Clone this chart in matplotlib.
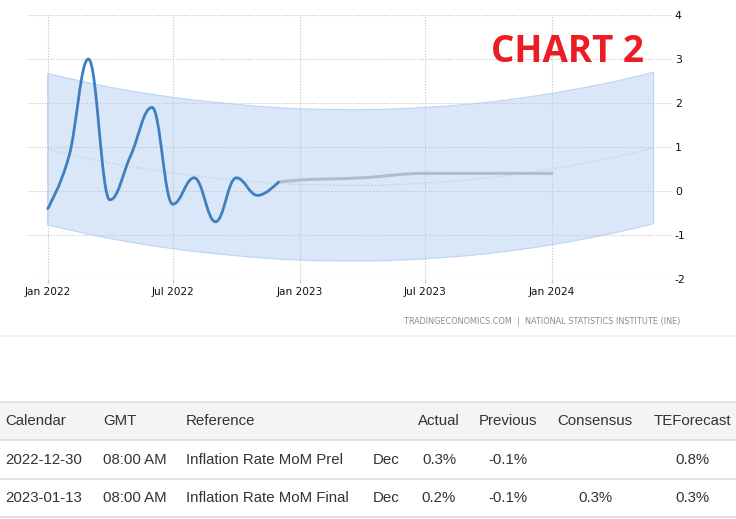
import matplotlib
matplotlib.use("Agg")
import matplotlib.pyplot as plt
import matplotlib.dates as mdates
import numpy as np
from matplotlib.path import Path
from matplotlib.patches import PathPatch, Rectangle
from matplotlib.lines import Line2D

plt.rcParams["axes.unicode_minus"] = False

# monthly inflation rate (%), actual values
actual_dates = ["2022-01-01", "2022-02-01", "2022-03-01", "2022-04-01", "2022-05-01", "2022-06-01",
                "2022-07-01", "2022-08-01", "2022-09-01", "2022-10-01", "2022-11-01", "2022-12-01"]
actual_vals = [-0.4, 0.8, 3.0, -0.2, 0.8, 1.9, -0.3, 0.3, -0.7, 0.3, -0.1, 0.2]

# forecast continuation (grey line)
fc_dates = ["2022-12-01", "2023-01-01", "2023-04-01", "2023-07-01", "2023-10-01", "2024-01-01"]
fc_vals = [0.2, 0.25, 0.3, 0.4, 0.4, 0.4]

# trend line and its band
trend_dates = ["2022-01-01", "2022-04-01", "2022-07-01", "2022-10-01", "2023-01-01", "2023-04-01",
               "2023-07-01", "2023-10-01", "2024-01-01", "2024-04-01", "2024-05-27"]
trend_vals = [0.95, 0.64, 0.41, 0.25, 0.15, 0.13, 0.18, 0.30, 0.50, 0.77, 0.98]
band_upper = [2.67, 2.36, 2.13, 1.97, 1.87, 1.85, 1.90, 2.02, 2.22, 2.49, 2.70]
band_lower = [-0.77, -1.08, -1.31, -1.47, -1.57, -1.59, -1.54, -1.42, -1.22, -0.95, -0.74]

x_ticks = ["2022-01-01", "2022-07-01", "2023-01-01", "2023-07-01", "2024-01-01"]
x_ticklabels = ["Jan 2022", "Jul 2022", "Jan 2023", "Jul 2023", "Jan 2024"]
y_ticks = [-2, -1, 0, 1, 2, 3, 4]

table_header = ["Calendar", "GMT", "Reference", "", "Actual", "Previous", "Consensus", "TEForecast"]
table_rows = [
    ["2022-12-30", "08:00 AM", "Inflation Rate MoM Prel", "Dec", "0.3%", "-0.1%", "", "0.8%"],
    ["2023-01-13", "08:00 AM", "Inflation Rate MoM Final", "Dec", "0.2%", "-0.1%", "0.3%", "0.3%"],
]


def to_num(dates):
    return mdates.date2num(np.array(dates, dtype="datetime64[D]"))


def spline(xs, ys, smoothing=1.5):
    """Highcharts-style spline as cubic bezier vertices."""
    n = len(xs)
    lc, rc = [None] * n, [None] * n
    for i in range(n):
        px, py = xs[i], ys[i]
        if 0 < i < n - 1:
            lx, ly, nx, ny = xs[i - 1], ys[i - 1], xs[i + 1], ys[i + 1]
            d = smoothing + 1
            lcx, lcy = (smoothing * px + lx) / d, (smoothing * py + ly) / d
            rcx, rcy = (smoothing * px + nx) / d, (smoothing * py + ny) / d
            if rcx != lcx:
                corr = (rcy - lcy) * (rcx - px) / (rcx - lcx) + py - rcy
                lcy += corr
                rcy += corr
            if lcy > ly and lcy > py:
                lcy = max(ly, py); rcy = 2 * py - lcy
            elif lcy < ly and lcy < py:
                lcy = min(ly, py); rcy = 2 * py - lcy
            if rcy > ny and rcy > py:
                rcy = max(ny, py); lcy = 2 * py - rcy
            elif rcy < ny and rcy < py:
                rcy = min(ny, py); lcy = 2 * py - rcy
            lc[i], rc[i] = (lcx, lcy), (rcx, rcy)
        else:
            lc[i] = rc[i] = (px, py)
    verts = [(xs[0], ys[0])]
    for i in range(1, n):
        verts += [rc[i - 1], lc[i], (xs[i], ys[i])]
    return verts


def curve_path(xs, ys):
    v = spline(xs, ys)
    return Path(v, [Path.MOVETO] + [Path.CURVE4] * (len(v) - 1))


W, H = 736, 519
fig = plt.figure(figsize=(W / 100, H / 100), dpi=100)
ax = fig.add_axes([28 / W, 1 - 279 / H, 644 / W, 264 / H])

tx = to_num(trend_dates)
up = spline(tx, band_upper)
lo = spline(tx, band_lower)
lo_rev = lo[::-1]
band_verts = up + [lo_rev[0]] + lo_rev[1:] + [up[0]]
band_codes = ([Path.MOVETO] + [Path.CURVE4] * (len(up) - 1) + [Path.LINETO]
              + [Path.CURVE4] * (len(lo_rev) - 1) + [Path.CLOSEPOLY])
ax.add_patch(PathPatch(Path(band_verts, band_codes), facecolor="#d9e7f9",
                       edgecolor="#bcd4f5", lw=0.8, zorder=0.3))

ax.add_patch(PathPatch(curve_path(tx, trend_vals), facecolor="none", edgecolor="#c6cdd8",
                       lw=1.0, linestyle=(0, (1, 1.5)), zorder=2))
ax.add_patch(PathPatch(curve_path(to_num(fc_dates), fc_vals), facecolor="none",
                       edgecolor="#b2bdcc", lw=2.2, capstyle="round", zorder=3))
ax.add_patch(PathPatch(curve_path(to_num(actual_dates), actual_vals), facecolor="none",
                       edgecolor="#3f7fc0", lw=2.0, capstyle="round", joinstyle="round", zorder=4))

ax.set_xlim(to_num(["2021-12-03"])[0] + 0.5, to_num(["2024-06-22"])[0] + 0.7)
ax.set_ylim(-2, 4)
ax.set_xticks(to_num(x_ticks))
ax.set_xticklabels(x_ticklabels)
ax.set_yticks(y_ticks)
ax.yaxis.tick_right()
ax.set_axisbelow(True)
ax.grid(True, color="#c4c4c4", linestyle=(0, (1, 1.5)), lw=0.8)
for s in ax.spines.values():
    s.set_visible(False)
ax.tick_params(axis="x", length=3, color="#c4c4c4", pad=3, labelsize=7.6, labelcolor="#111111")
ax.tick_params(axis="y", length=0, pad=2, labelsize=7.8, labelcolor="#111111")

fig.text(567 / W, 1 - 52.5 / H, "CHART 2", color="#ec1c24", fontsize=26.5, fontweight="bold",
         family="Open Sans", ha="center", va="center")

fig.text(680 / W, 1 - 321 / H, "TRADINGECONOMICS.COM  |  NATIONAL STATISTICS INSTITUTE (INE)",
         color="#8c8c8c", fontsize=5.9, ha="right", va="center")


def hline(y, color):
    fig.add_artist(Line2D([0, 1], [1 - y / H, 1 - y / H], color=color, lw=1.2))


fig.add_artist(Rectangle((0, 1 - 440 / H), 1, 38 / H, facecolor="#f4f4f4", edgecolor="none"))
hline(336, "#eeeeee")
for y in (402, 440, 479, 517):
    hline(y, "#dddddd")

# column anchors: (x, ha)
cols = [(5, "left"), (103, "left"), (186, "left"), (373, "left"),
        (439, "center"), (508, "center"), (595, "center"), (692, "center")]
row_y = [421, 459.5, 498]
for r, row in enumerate([table_header] + table_rows):
    for (x, ha), txt in zip(cols, row):
        if txt:
            fig.text(x / W, 1 - row_y[r] / H, txt, fontsize=10.8, family="Liberation Sans",
                     color="#333333", ha=ha, va="center")

fig.savefig("out.png", dpi=100)
